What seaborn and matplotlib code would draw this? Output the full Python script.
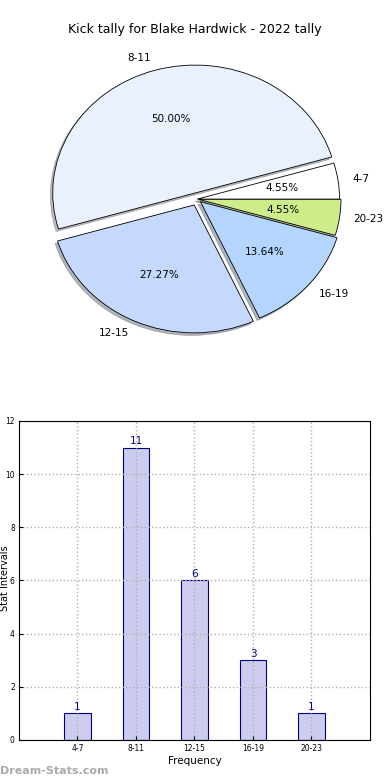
import numpy as np
import pandas as pd
import seaborn as sns
import matplotlib
matplotlib.use("Agg")
import matplotlib.pyplot as plt

# data
bins = ['4-7', '8-11', '12-15', '16-19', '20-23']
counts = [1, 11, 6, 3, 1]
pie_colors = ['#ffffff', '#eaf1fe', '#c5d8fe', '#b3d5fe', '#cfec8a']
explode = [0, 0.05, 0.05, 0.03, 0.01]

sns.set_style("white")
plt.rcParams['font.family'] = ['DejaVu Sans']
plt.rcParams['text.color'] = 'black'
plt.rcParams['axes.labelcolor'] = 'black'
plt.rcParams['xtick.color'] = 'black'
plt.rcParams['ytick.color'] = 'black'

fig = plt.figure(figsize=(3.9, 7.8), dpi=100)

# pie (elliptical, like the old matplotlib output)
ax1 = fig.add_axes([0.049, 0.5397, 0.913, 0.41])
wedges, texts, autotexts = ax1.pie(counts, labels=bins, colors=pie_colors, explode=explode,
                                   autopct='%.2f%%', startangle=0,
                                   shadow=dict(ox=-0.012, oy=-0.014, shade=0.5),
                                   wedgeprops=dict(edgecolor='black', linewidth=0.6),
                                   textprops=dict(fontsize=7.5))
ax1.set_aspect('auto')
ax1.set_xlim(-1.25, 1.25)
ax1.set_ylim(-1.25, 1.25)
fig.text(0.5, 1 - 30 / 780, 'Kick tally for Blake Hardwick - 2022 tally',
         ha='center', va='center', fontsize=9)

# bars
df = pd.DataFrame({'bin': bins, 'count': counts})
ax2 = fig.add_axes([0.0487, 0.0513, 0.9, 0.409])
sns.barplot(data=df, x='bin', y='count', color='#ccccee', edgecolor='navy',
            linewidth=0.8, width=0.45, saturation=1, ax=ax2)
ax2.set_xlim(-1, 5)
ax2.set_ylim(0, 12)
ax2.set_yticks(range(0, 13, 2))
ax2.grid(True, linestyle=':', color='#b0b0b0', linewidth=1)
ax2.set_axisbelow(False)
for s in ax2.spines.values():
    s.set_color('black')
    s.set_linewidth(0.8)
    s.set_zorder(5)
ax2.tick_params(labelsize=5.5, direction='in', length=3, left=True, bottom=True, pad=3)
ax2.bar_label(ax2.containers[0], color='navy', fontsize=7.5, padding=1)
ax2.set_xlabel('Frequency', fontsize=7.5, labelpad=2)
ax2.set_ylabel('')
fig.text(0.0, 1 - 578 / 780, 'Stat Intervals', rotation=90,
         ha='left', va='center', fontsize=7)

fig.text(0.0, 1 - 771 / 780, 'Dream-Stats.com', color='#aaaaaa', fontsize=8,
         fontweight='bold', ha='left', va='center')

fig.savefig('out.png', dpi=100)
